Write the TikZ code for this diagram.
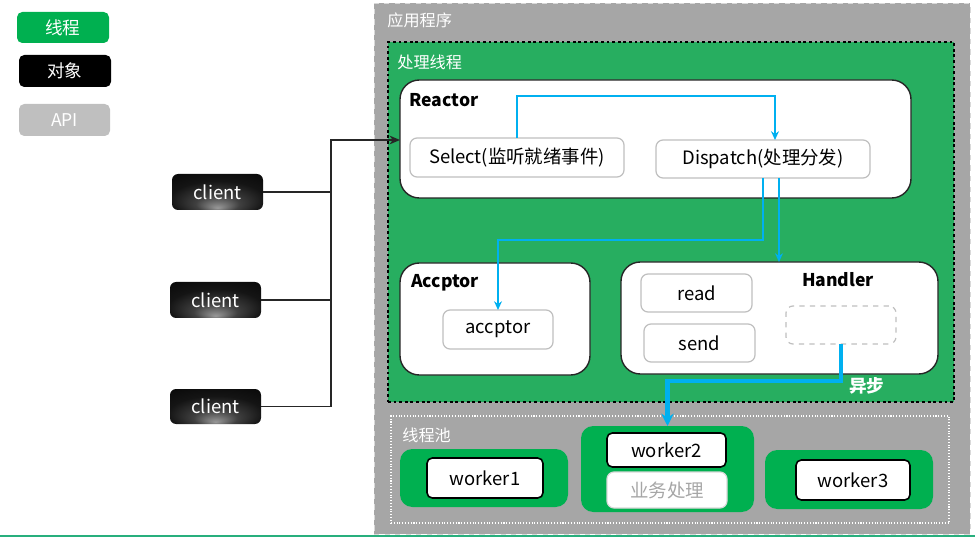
\documentclass[tikz,border=0pt]{standalone}
\usepackage{fontspec}
\setmainfont{Noto Sans CJK SC}
\usetikzlibrary{fit,calc,arrows.meta}
\definecolor{lgreen}{RGB}{0,176,80}
\definecolor{mgreen}{RGB}{39,174,96}
\definecolor{appgray}{RGB}{166,166,166}
\definecolor{lgray}{RGB}{191,191,191}
\definecolor{bblue}{RGB}{0,176,240}
\definecolor{lineg}{RGB}{40,175,125}
\pgfdeclareradialshading{clientshade}{\pgfpoint{0bp}{-22bp}}{color(0bp)=(black!40); color(12bp)=(black!75); color(26bp)=(black!92); color(50bp)=(black)}
\begin{document}
\begin{tikzpicture}[x=0.02cm,y=-0.02cm,
  pb/.style={inner sep=0pt,outer sep=0pt},
  wtxt/.style={text=white,inner sep=0pt,font=\fontsize{10}{12}\selectfont},
  btxt/.style={text=black,inner sep=0pt,font=\fontsize{10.5}{12}\selectfont},
  legend/.style={pb,rounded corners=3pt},
  clientbox/.style={pb,rounded corners=3.5pt,shading=clientshade},
  bigbox/.style={pb,draw=black!85,fill=white,line width=0.8pt,rounded corners=11pt},
  smallbox/.style={pb,draw=lgray,fill=white,line width=0.7pt,rounded corners=4pt},
  workbox/.style={pb,draw=black,fill=white,line width=0.9pt,rounded corners=3pt},
  greenpool/.style={pb,fill=lgreen,rounded corners=7pt},
  title/.style={anchor=west,font=\bfseries\fontsize{10}{12}\selectfont,inner sep=0pt},
  caption/.style={anchor=west,text=white,font=\fontsize{9.2}{10}\selectfont,inner sep=0pt},
  barrow/.style={draw=bblue,line width=0.7pt,-{Stealth[length=5pt,width=4.5pt]}},
  tarrow/.style={draw=bblue,line width=2.4pt,-{Stealth[length=7pt,width=7pt]}},
  wire/.style={draw=black!85,line width=0.8pt}
]
\useasboundingbox (0,0) rectangle (975,537);
% bottom line
\draw[lineg,line width=1pt] (0,536) -- (975,536);
% legend
\node[legend,fill=lgreen,fit={(17,12)(109,43)},label={[wtxt]center:线程}] (lg1) {};
\node[legend,fill=black,fit={(19,55)(111,87)},label={[wtxt]center:对象}] (lg2) {};
\node[legend,fill=lgray,fit={(19,104)(110,136)},label={[wtxt]center:API}] (lg3) {};
% application box
\node[pb,fill=appgray,draw=white!85!black,dashed,line width=0.5pt,fit={(374,3)(970,534)}] (app) {};
\node[caption] (appt) at (387,20) {应用程序};
% processing thread box
\node[pb,fill=mgreen,draw=black,line width=1.6pt,dash pattern=on 1.6pt off 1.6pt,fit={(388,42)(954,402)}] (proc) {};
\node[caption] (proct) at (397,62) {处理线程};
% Reactor
\node[bigbox,fit={(400,80)(911,198)}] (reactor) {};
\node[title] (reactort) at (409,100) {Reactor};
\node[smallbox,fit={(410,138)(624,177)},label={[btxt]center:Select(监听就绪事件)}] (sel) {};
\node[smallbox,fit={(656,140)(870,178)},label={[btxt]center:Dispatch(处理分发)}] (disp) {};
% Accptor
\node[bigbox,fit={(400,263)(590,375)}] (accbig) {};
\node[title] (acct) at (411,283) {Accptor};
\node[smallbox,fit={(443,310)(553,349)},label={[btxt]center:accptor}] (acc) {};
% Handler
\node[bigbox,fit={(621,262)(938,374)}] (handler) {};
\node[title,anchor=center] (handt) at (838,280) {Handler};
\node[smallbox,fit={(641,274)(752,312)},label={[btxt]center:read}] (read) {};
\node[smallbox,fit={(644,324)(755,362)},label={[btxt]center:send}] (send) {};
\node[smallbox,dashed,fit={(786,306)(896,344)}] (async) {};
\node[anchor=west,text=white,font=\bfseries\fontsize{10}{12}\selectfont,inner sep=0pt] (asynct) at (849,386) {异步};
% thread pool
\node[pb,draw=white,densely dotted,line width=0.6pt,fit={(391,416)(949,523)}] (pool) {};
\node[caption] (poolt) at (402,435) {线程池};
\node[greenpool,fit={(400,449)(568,507)}] (g1) {};
\node[workbox,fit={(427,458)(543,498)},label={[btxt]center:worker1}] (w1) {};
\node[greenpool,fit={(581,426)(754,512)}] (g2) {};
\node[workbox,fit={(607,433)(726,467)},label={[btxt]center:worker2}] (w2) {};
\node[smallbox,draw=white!85!black,fit={(607,472)(727,508)},label={[btxt,text=appgray]center:业务处理}] (biz) {};
\node[greenpool,fit={(765,450)(933,509)}] (g3) {};
\node[workbox,fit={(796,460)(910,500)},label={[btxt]center:worker3}] (w3) {};
% clients
\node[clientbox,fit={(172,174)(263,210)},label={[wtxt,font=\fontsize{10.5}{12}\selectfont]center:client}] (c1) {};
\node[clientbox,fit={(170,282)(261,318)},label={[wtxt,font=\fontsize{10.5}{12}\selectfont]center:client}] (c2) {};
\node[clientbox,fit={(170,389)(261,424)},label={[wtxt,font=\fontsize{10.5}{12}\selectfont]center:client}] (c3) {};
\coordinate (jt) at (331,140);
\draw[wire] (c1.east) -- (c1.east -| jt);
\draw[wire] (c2.east) -- (c2.east -| jt);
\draw[wire,-{Stealth[length=6pt,width=5pt]}] (c3.east) -| (jt) -- (jt -| reactor.west);
% blue arrows
\coordinate (dtop) at ($(disp.north)+(12,0)$);
\draw[barrow] (sel.north) -- ++(0,-42) -| (dtop);
\draw[barrow] (disp.south) -- ++(0,62) -| (acc.north);
\coordinate (d2) at ($(disp.south)+(16,0)$);
\draw[barrow] (d2) -- (d2 |- handler.north);
\draw[tarrow] (async.south) -- ++(0,37) -| (g2.north);
\end{tikzpicture}
\end{document}
